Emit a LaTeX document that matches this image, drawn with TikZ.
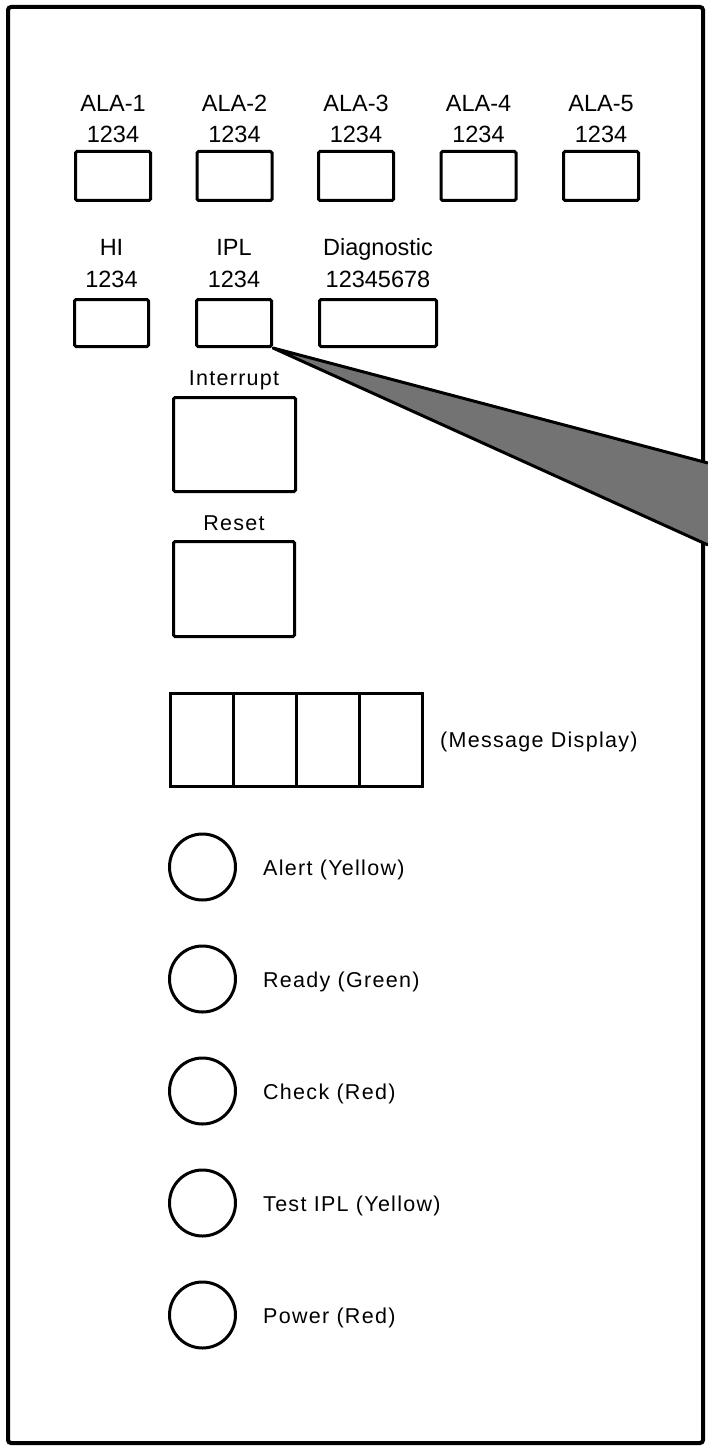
\documentclass[tikz,border=0pt]{standalone}
\usepackage{fontspec}
\newfontfamily\panelfont{Liberation Sans}
\newfontfamily\widefont[LetterSpace=6]{Liberation Sans}
\begin{document}
\begin{tikzpicture}[x=1pt,y=-1pt,
		key/.style={draw=black,line width=3pt,rounded corners=1.5pt,inner sep=0pt,minimum width=75pt,minimum height=49pt},
		lamp/.style={draw=black,line width=3pt,circle,inner sep=0pt,minimum size=66pt},
		toplabel/.style={inner sep=0pt,anchor=base,font=\panelfont\fontsize{23.5}{24}\selectfont},
		lowlabel/.style={inner sep=0pt,anchor=base,font=\widefont\fontsize{21.5}{22}\selectfont}]
	\useasboundingbox (0,0) rectangle (708,1450);
	% panel outline
	\draw [black,line width=4pt,rounded corners=3pt] (8,7) rectangle (703,1443);
	% ALA row
	\node [toplabel] (ala1name) at (113,112) {ALA-1};
	\node [toplabel] (ala1bits) at (113,143) {1234};
	\node [key] (ala1) at (113,176) {};
	\node [toplabel] (ala2name) at (234.5,112) {ALA-2};
	\node [toplabel] (ala2bits) at (234.5,143) {1234};
	\node [key] (ala2) at (234.5,176) {};
	\node [toplabel] (ala3name) at (356,112) {ALA-3};
	\node [toplabel] (ala3bits) at (356,143) {1234};
	\node [key] (ala3) at (356,176) {};
	\node [toplabel] (ala4name) at (478.5,112) {ALA-4};
	\node [toplabel] (ala4bits) at (478.5,143) {1234};
	\node [key] (ala4) at (478.5,176) {};
	\node [toplabel] (ala5name) at (601,112) {ALA-5};
	\node [toplabel] (ala5bits) at (601,143) {1234};
	\node [key] (ala5) at (601,176) {};
	% HI, IPL, Diagnostic row
	\node [toplabel] (hiname) at (111.5,255) {HI};
	\node [toplabel] (hibits) at (111.5,287) {1234};
	\node [key,minimum width=74pt,minimum height=47pt] (hi) at (111.5,323) {};
	\node [toplabel] (iplname) at (234,255) {IPL};
	\node [toplabel] (iplbits) at (234,287) {1234};
	\node [key,minimum width=75pt,minimum height=47pt] (ipl) at (234,323) {};
	\node [toplabel] (diagname) at (378,255) {Diagnostic};
	\node [toplabel] (diagbits) at (378,287) {12345678};
	\node [key,minimum width=117pt,minimum height=47pt] (diag) at (378,323) {};
	% callout wedge
	\coordinate (wedgetop) at (708,463);
	\coordinate (wedgebot) at (708,545);
	\fill [black!55] (ipl.south east) -- (wedgetop) -- (wedgebot) -- cycle;
	\draw [black,line width=3pt,line join=round] (wedgetop) -- (ipl.south east) -- (wedgebot);
	% push buttons
	\node [lowlabel] (intname) at (234,385) {Interrupt};
	\node [key,minimum width=122pt,minimum height=94pt] (interrupt) at (234.5,444.5) {};
	\node [lowlabel] (resetname) at (234,530) {Reset};
	\node [key,minimum width=121pt,minimum height=95pt] (reset) at (234,589) {};
	% message display
	\node [key,rounded corners=0pt,minimum width=63pt,minimum height=93pt] (msg1) at (201.5,740) {};
	\node [key,rounded corners=0pt,minimum width=63pt,minimum height=93pt] (msg2) at (264.5,740) {};
	\node [key,rounded corners=0pt,minimum width=63pt,minimum height=93pt] (msg3) at (327.5,740) {};
	\node [key,rounded corners=0pt,minimum width=63pt,minimum height=93pt] (msg4) at (390.5,740) {};
	\node [lowlabel,anchor=base west] (msgname) at (440,747) {(Message Display)};
	% indicator lamps
	\node [lamp] (alert) at (202.5,867) {};
	\node [lowlabel,anchor=base west] (alertname) at (263,875) {Alert (Yellow)};
	\node [lamp] (ready) at (202.5,979) {};
	\node [lowlabel,anchor=base west] (readyname) at (263,987) {Ready (Green)};
	\node [lamp] (check) at (202.5,1091) {};
	\node [lowlabel,anchor=base west] (checkname) at (263,1099) {Check (Red)};
	\node [lamp] (testipl) at (202.5,1203) {};
	\node [lowlabel,anchor=base west] (testiplname) at (263,1211) {Test IPL (Yellow)};
	\node [lamp] (power) at (202.5,1315) {};
	\node [lowlabel,anchor=base west] (powername) at (263,1323) {Power (Red)};
\end{tikzpicture}
\end{document}
